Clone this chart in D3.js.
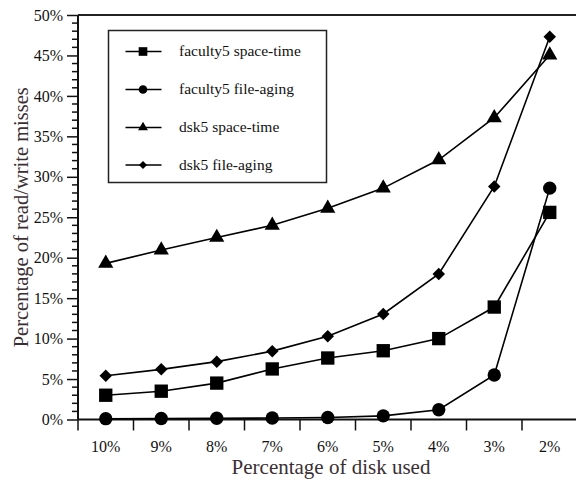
<!DOCTYPE html>
<html>
<head>
<meta charset="utf-8">
<script src="https://cdn.jsdelivr.net/npm/d3@7"></script>
<style>
  body { margin: 0; background: #fff; }
  svg { display: block; }
</style>
</head>
<body>
<div id="viz"></div>
<script>
// x categories (percentage of disk used)
const diskUsed = ["10%", "9%", "8%", "7%", "6%", "5%", "4%", "3%", "2%"];

// series values, percentage of read/write misses
const faculty5SpaceTime = [3.0, 3.5, 4.5, 6.25, 7.6, 8.5, 10.0, 13.9, 25.6];
const faculty5FileAging = [0.1, 0.12, 0.15, 0.18, 0.25, 0.45, 1.2, 5.5, 28.6];
const dsk5SpaceTime     = [19.3, 20.95, 22.5, 24.0, 26.1, 28.6, 32.1, 37.3, 45.05];
const dsk5FileAging     = [5.4, 6.2, 7.15, 8.45, 10.3, 13.05, 18.0, 28.8, 47.3];

const yTicks = [0, 5, 10, 15, 20, 25, 30, 35, 40, 45, 50];

const FONT = "Liberation Serif";

const series = [
  {name: "faculty5 space-time", values: faculty5SpaceTime, symbol: "square"},
  {name: "faculty5 file-aging", values: faculty5FileAging, symbol: "circle"},
  {name: "dsk5 space-time",     values: dsk5SpaceTime,     symbol: "triangle"},
  {name: "dsk5 file-aging",     values: dsk5FileAging,     symbol: "diamond"}
];

const width = 576, height = 480;
const margin = {left: 78, top: 15, right: -1.5, bottom: 60.5};

const svg = d3.select("#viz").append("svg")
  .attr("width", width)
  .attr("height", height)
  .attr("font-family", FONT);

const x = d3.scaleBand()
  .domain(diskUsed)
  .range([margin.left, width - margin.right])
  .padding(0);

const y = d3.scaleLinear()
  .domain([0, 50])
  .range([height - margin.bottom, margin.top]);

const xc = d => x(d) + x.bandwidth() / 2;

// marker path + extra rotation (diamond = square turned 45deg)
function marker(kind, scale) {
  if (kind === "square")   return {d: d3.symbol(d3.symbolSquare, 178 * scale)(), rot: 0};
  if (kind === "circle")   return {d: d3.symbol(d3.symbolCircle, 140 * scale)(), rot: 0};
  if (kind === "triangle") return {d: d3.symbol(d3.symbolTriangle, 100 * scale)(), rot: 0};
  return {d: d3.symbol(d3.symbolSquare, 78 * scale)(), rot: 45};
}

// Y axis: major ticks every 5%, minor every 1%
const yAxis = d3.axisLeft(y)
  .tickValues(yTicks)
  .tickFormat(d => d + "%")
  .tickSize(11)
  .tickPadding(4);
const yAxisG = svg.append("g")
  .attr("transform", "translate(" + margin.left + ",0)")
  .call(yAxis)
  .attr("font-family", FONT)
  .attr("font-size", 16);
yAxisG.select(".domain").remove();
yAxisG.selectAll(".tick line").attr("stroke", "#111").attr("stroke-width", 1.5);
yAxisG.selectAll(".tick text").attr("fill", "#111");

const minor = d3.range(0, 51).filter(d => d % 5 !== 0);
svg.append("g").selectAll("line")
  .data(minor)
  .join("line")
    .attr("x1", margin.left - 6)
    .attr("x2", margin.left)
    .attr("y1", d => y(d))
    .attr("y2", d => y(d))
    .attr("stroke", "#111")
    .attr("stroke-width", 1.5);

// X axis: labels at band centres, ticks at band edges
const xAxis = d3.axisBottom(x)
  .tickSize(0)
  .tickPadding(21);
const xAxisG = svg.append("g")
  .attr("transform", "translate(0," + y(0) + ")")
  .call(xAxis)
  .attr("font-family", FONT)
  .attr("font-size", 16);
xAxisG.select(".domain").remove();
xAxisG.selectAll(".tick text").attr("fill", "#111");

svg.append("g").selectAll("line")
  .data(diskUsed)
  .join("line")
    .attr("x1", d => x(d))
    .attr("x2", d => x(d))
    .attr("y1", y(0))
    .attr("y2", y(0) + 11)
    .attr("stroke", "#111")
    .attr("stroke-width", 1.5);

// axis lines and top border
svg.append("line")
  .attr("x1", margin.left).attr("x2", margin.left)
  .attr("y1", y(50)).attr("y2", y(0))
  .attr("stroke", "#111").attr("stroke-width", 2);
svg.append("line")
  .attr("x1", margin.left).attr("x2", width)
  .attr("y1", y(0)).attr("y2", y(0))
  .attr("stroke", "#111").attr("stroke-width", 2);
svg.append("line")
  .attr("x1", margin.left).attr("x2", width)
  .attr("y1", y(50)).attr("y2", y(50))
  .attr("stroke", "#222").attr("stroke-width", 2);

// axis titles
svg.append("text")
  .attr("x", 331)
  .attr("y", 474)
  .attr("text-anchor", "middle")
  .attr("fill", "#3a3034")
  .attr("font-family", FONT)
  .attr("font-size", 21)
  .text("Percentage of disk used");

svg.append("text")
  .attr("transform", "translate(28," + ((y(0) + y(50)) / 2) + ") rotate(-90)")
  .attr("text-anchor", "middle")
  .attr("fill", "#3a3034")
  .attr("font-family", FONT)
  .attr("font-size", 20.5)
  .text("Percentage of read/write misses");

// lines and markers
const line = d3.line()
  .x((d, i) => xc(diskUsed[i]))
  .y(d => y(d));

series.forEach(s => {
  svg.append("path")
    .datum(s.values)
    .attr("d", line)
    .attr("fill", "none")
    .attr("stroke", "#000")
    .attr("stroke-width", 1.6);
  const m = marker(s.symbol, 1);
  svg.append("g").selectAll("path")
    .data(s.values)
    .join("path")
      .attr("transform", (d, i) => "translate(" + xc(diskUsed[i]) + "," + y(d) + ") rotate(" + m.rot + ")")
      .attr("d", m.d)
      .attr("fill", "#000");
});

// legend
const legend = svg.append("g");
legend.append("rect")
  .attr("x", 108.5).attr("y", 30.5)
  .attr("width", 218).attr("height", 152)
  .attr("fill", "#fff")
  .attr("stroke", "#222")
  .attr("stroke-width", 1.5);

const legendY = [51.5, 89.5, 127.5, 165];
series.forEach((s, i) => {
  const g = legend.append("g").attr("transform", "translate(0," + legendY[i] + ")");
  g.append("line")
    .attr("x1", 125.5).attr("x2", 161.5)
    .attr("stroke", "#000").attr("stroke-width", 1.6);
  const m = marker(s.symbol, 0.42);
  g.append("path")
    .attr("transform", "translate(143,0) rotate(" + m.rot + ")")
    .attr("d", m.d)
    .attr("fill", "#000");
  g.append("text")
    .attr("x", 179)
    .attr("dy", "0.32em")
    .attr("fill", "#111")
    .attr("font-family", FONT)
    .attr("font-size", 15.5)
    .text(s.name);
});
</script>
</body>
</html>
